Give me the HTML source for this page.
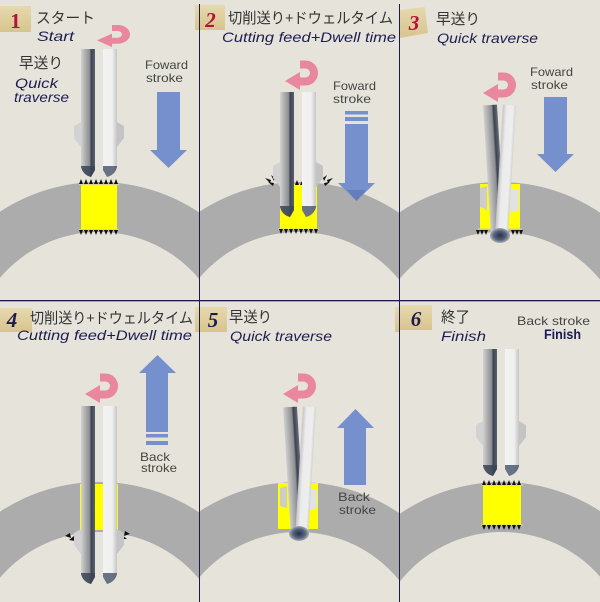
<!DOCTYPE html>
<html><head><meta charset="utf-8"><style>
html,body{margin:0;padding:0;background:#e6e4da;width:600px;height:602px;overflow:hidden;}
svg{display:block;}
.jp{font-family:"Liberation Sans","Noto Sans CJK JP",sans-serif;font-size:15px;fill:#333;}
.en{font-family:"Liberation Sans",sans-serif;font-style:italic;font-size:14px;fill:#1e1d52;}
.hw{font-family:"Liberation Sans",sans-serif;font-size:12px;fill:#444;}
.num{font-family:"Liberation Serif",serif;font-style:italic;font-weight:bold;font-size:21px;}
</style></head><body>
<svg width="600" height="602" viewBox="0 0 600 602" xmlns="http://www.w3.org/2000/svg">
<defs>
  <linearGradient id="gL" gradientUnits="userSpaceOnUse" x1="0" y1="0" x2="14" y2="0">
    <stop offset="0" stop-color="#d2d2d2"/><stop offset="0.35" stop-color="#a9a9aa"/>
    <stop offset="0.62" stop-color="#8b8d92"/><stop offset="0.72" stop-color="#3d4452"/>
    <stop offset="1" stop-color="#5a616d"/>
  </linearGradient>
  <linearGradient id="gR" gradientUnits="userSpaceOnUse" x1="22" y1="0" x2="36" y2="0">
    <stop offset="0" stop-color="#f3f3f3"/><stop offset="0.65" stop-color="#efefef"/>
    <stop offset="0.88" stop-color="#d4d4d4"/><stop offset="1" stop-color="#c4c4c4"/>
  </linearGradient>
  <linearGradient id="gLt" gradientUnits="userSpaceOnUse" x1="-7" y1="0" x2="7" y2="0">
    <stop offset="0" stop-color="#cfcfcf"/><stop offset="0.35" stop-color="#a8a8a9"/>
    <stop offset="0.6" stop-color="#8c8e93"/><stop offset="0.72" stop-color="#3a4150"/>
    <stop offset="1" stop-color="#6a707a"/>
  </linearGradient>
  <linearGradient id="gRt" gradientUnits="userSpaceOnUse" x1="-6.5" y1="0" x2="6.5" y2="0">
    <stop offset="0" stop-color="#c4c4c6"/><stop offset="0.3" stop-color="#ececec"/>
    <stop offset="0.8" stop-color="#eeeeee"/><stop offset="1" stop-color="#d2d2d2"/>
  </linearGradient>
  <radialGradient id="gTip" cx="0.5" cy="0.5" r="0.5">
    <stop offset="0" stop-color="#26304a"/><stop offset="0.6" stop-color="#56627a"/>
    <stop offset="1" stop-color="#a6adb8"/>
  </radialGradient>
  <linearGradient id="gTag" x1="0" y1="0" x2="0" y2="1">
    <stop offset="0" stop-color="#e6d9ae"/><stop offset="1" stop-color="#d8c48e"/>
  </linearGradient>
  <g id="pk">
    <path d="M15,4.5 H20.5 A8.5,8.5 0 0 1 20.5,21.5 H14" fill="none" stroke="#e8879d" stroke-width="8"/>
    <polygon points="0,21 15,12 15,30" fill="#e8879d"/>
  </g>
</defs>

<rect x="0" y="0" width="600" height="602" fill="#e6e4da"/>

<!-- rings -->
<g fill="#acacac">
  <path d="M0,211.67 A180,180 0 0 1 199,212.33 L199,278.93 A130,130 0 0 0 0,277.74 Z"/>
  <path d="M200,211.34 A180,180 0 0 1 399,212.67 L399,279.54 A130,130 0 0 0 200,277.16 Z"/>
  <path d="M400,212.0 A180,180 0 0 1 600,212.67 L600,279.54 A130,130 0 0 0 400,278.34 Z"/>
  <path d="M0,511.67 A180,180 0 0 1 199,512.33 L199,578.93 A130,130 0 0 0 0,577.74 Z"/>
  <path d="M200,511.02 A180,180 0 0 1 399,513.01 L399,580.15 A130,130 0 0 0 200,576.58 Z"/>
  <path d="M400,513.69 A180,180 0 0 1 600,511.02 L600,576.58 A130,130 0 0 0 400,581.40 Z"/>
</g>

<!-- ============ PANEL 1 ============ -->
<g>
  <rect x="81" y="184" width="36" height="46" fill="#ffff00"/>
  <rect x="79" y="184" width="40" height="1.2" fill="#d9d88a"/>
  <rect x="79" y="229" width="40" height="1.2" fill="#d9d88a"/>
  <path fill="#111" d="M79,184L81,179L83,184Z M84,184L86,179L88,184Z M89,184L91,179L93,184Z M94,184L96,179L98,184Z M99,184L101,179L103,184Z M104,184L106,179L108,184Z M109,184L111,179L113,184Z M114,184L116,179L118,184Z
  M79,230L81,235L83,230Z M84,230L86,235L88,230Z M89,230L91,235L93,230Z M94,230L96,235L98,230Z M99,230L101,235L103,230Z M104,230L106,235L108,230Z M109,230L111,235L113,230Z M114,230L116,235L118,230Z"/>
  <g transform="translate(81,122)">
    <path d="M0,-73 H14 V48 L10,55 Q2,53 0,45 V25 L-7,16 V4 L0,0 Z" fill="url(#gL)"/>
    <path d="M0,44 H14 V48 L10,55 Q2,53 0,45 Z" fill="#3a4456" opacity="0.85"/>
    <path d="M22,-73 H36 V0 L43,4 V16 L36,25 V45 Q34,53 26,55 L22,48 Z" fill="url(#gR)"/>
    <path d="M22,44 H36 V45 Q34,53 26,55 L22,48 Z" fill="#46526a" opacity="0.8"/>
  </g>
  <polygon points="157,92 180,92 180,150 187,150 168.5,168 150,150 157,150" fill="#7690cd"/>
  <use href="#pk" transform="translate(97,24.6) scale(1,0.75)"/>
  <rect x="0" y="6" width="31" height="26" fill="url(#gTag)"/>
  <text x="15.5" y="28" class="num" text-anchor="middle" fill="#b2123c" style="font-style:normal">1</text>
  <text x="36" y="23" class="jp" textLength="59" lengthAdjust="spacingAndGlyphs">スタート</text>
  <text x="37" y="41" class="en" textLength="37" lengthAdjust="spacingAndGlyphs">Start</text>
  <text x="19" y="68" class="jp" textLength="44" lengthAdjust="spacingAndGlyphs">早送り</text>
  <text x="15" y="88" class="en" textLength="43" lengthAdjust="spacingAndGlyphs">Quick</text>
  <text x="14" y="102" class="en" textLength="55" lengthAdjust="spacingAndGlyphs">traverse</text>
  <text x="145" y="69" class="hw" textLength="43" lengthAdjust="spacingAndGlyphs">Foward</text>
  <text x="146" y="82" class="hw" textLength="37" lengthAdjust="spacingAndGlyphs">stroke</text>
</g>
<rect x="195" y="5" width="4" height="25" fill="url(#gTag)"/>

<!-- ============ PANEL 2 ============ -->
<g>
  <rect x="280" y="184" width="37" height="45" fill="#ffff00"/>
  <rect x="278" y="228.5" width="41" height="1.2" fill="#d9d88a"/>
  <path fill="#111" d="M279,229L281,234L283,229Z M284,229L286,234L288,229Z M289,229L291,234L293,229Z M294,229L296,234L298,229Z M299,229L301,234L303,229Z M304,229L306,234L308,229Z M309,229L311,234L313,229Z M314,229L316,234L318,229Z
  M295,185L297,180L299,185Z M300,185L302,181L304,185Z
  M271,180L265,178L270,183Z M274,183L268,182L273,186Z M275,178L271,175L274,181Z
  M327,180L333,178L328,183Z M324,183L330,182L325,186Z M323,178L327,175L324,181Z"/>
  <g transform="translate(280,162)">
    <path d="M0,-70 H14 V48 L10,55 Q2,53 0,45 V25 L-7,16 V4 L0,0 Z" fill="url(#gL)"/>
    <path d="M0,44 H14 V48 L10,55 Q2,53 0,45 Z" fill="#3a4456" opacity="0.85"/>
    <path d="M22,-70 H36 V0 L43,4 V16 L36,25 V45 Q34,53 26,55 L22,48 Z" fill="url(#gR)"/>
    <path d="M22,44 H36 V45 Q34,53 26,55 L22,48 Z" fill="#46526a" opacity="0.8"/>
  </g>
  <rect x="345" y="111" width="23" height="3.5" fill="#7690cd"/>
  <rect x="345" y="117" width="23" height="4" fill="#7690cd"/>
  <polygon points="345,124 368,124 368,183 375,183 356.5,201 338,183 345,183" fill="#7690cd"/>
  <polygon points="347,190 366,190 356.5,201" fill="#5a70b2" opacity="0.6"/>
  <use href="#pk" transform="translate(285,60)"/>
  <rect x="200" y="5" width="25" height="25" fill="url(#gTag)"/>
  <text x="210.5" y="27" class="num" text-anchor="middle" fill="#b2123c">2</text>
  <text x="228" y="23" class="jp" textLength="165" lengthAdjust="spacingAndGlyphs">切削送り+ドウェルタイム</text>
  <text x="222" y="42" class="en" textLength="174" lengthAdjust="spacingAndGlyphs">Cutting feed+Dwell time</text>
  <text x="333" y="90" class="hw" textLength="43" lengthAdjust="spacingAndGlyphs">Foward</text>
  <text x="333" y="103" class="hw" textLength="38" lengthAdjust="spacingAndGlyphs">stroke</text>
</g>

<!-- ============ PANEL 3 ============ -->
<g>
  <rect x="480" y="184" width="40" height="45" fill="#ffff00"/>
  <rect x="478" y="228.5" width="44" height="1.2" fill="#d9d88a"/>
  <path fill="#111" d="M476,230L478,235L480,230Z M480,230L482,235L484,230Z M484,230L486,235L488,230Z M511,230L513,235L515,230Z M515,230L517,235L519,230Z M519,230L521,235L523,230Z"/>
  <polygon points="480,188 487,186 487,210 480,207" fill="#cdcdcd"/>
  <polygon points="509,188 519,190 519,210 510,213" fill="#e2e2e2"/>
  <g transform="translate(490,105) rotate(-3.5)">
    <rect x="-7" y="0" width="14" height="128" fill="url(#gLt)"/>
  </g>
  <g transform="translate(509.5,105) rotate(3.5)">
    <rect x="-6.5" y="0" width="13" height="128" fill="url(#gRt)"/>
  </g>
  <ellipse cx="500" cy="235.5" rx="10" ry="7.5" fill="url(#gTip)"/>
  <polygon points="544,97 567,97 567,154 574,154 555.5,172 537,154 544,154" fill="#7690cd"/>
  <use href="#pk" transform="translate(483,72)"/>
  <polygon points="400,10 425,7 428,33 400,38" fill="url(#gTag)"/>
  <text x="414" y="30" class="num" text-anchor="middle" fill="#b2123c">3</text>
  <text x="436" y="24" class="jp" textLength="44" lengthAdjust="spacingAndGlyphs">早送り</text>
  <text x="437" y="43" class="en" textLength="101" lengthAdjust="spacingAndGlyphs">Quick traverse</text>
  <text x="530" y="76" class="hw" textLength="43" lengthAdjust="spacingAndGlyphs">Foward</text>
  <text x="531" y="89" class="hw" textLength="37" lengthAdjust="spacingAndGlyphs">stroke</text>
</g>

<!-- ============ PANEL 4 ============ -->
<g>
  <rect x="80" y="484" width="38" height="46" fill="#ffff00"/>
  <path fill="#111" d="M70,533L65,536L71,538Z M74,536L69,540L75,541Z M125,531L130,534L124,536Z M122,535L127,539L121,539Z"/>
  <g transform="translate(81,529)">
    <path d="M0,-123 H14 V48 L10,55 Q2,53 0,45 V25 L-7,16 V4 L0,0 Z" fill="url(#gL)"/>
    <path d="M0,44 H14 V48 L10,55 Q2,53 0,45 Z" fill="#3a4456" opacity="0.85"/>
    <path d="M22,-123 H36 V0 L43,4 V16 L36,25 V45 Q34,53 26,55 L22,48 Z" fill="url(#gR)"/>
    <path d="M22,44 H36 V45 Q34,53 26,55 L22,48 Z" fill="#46526a" opacity="0.8"/>
  </g>
  <polygon points="157.5,355 176,373 168,373 168,432 146,432 146,373 139,373" fill="#7690cd"/>
  <rect x="146" y="434" width="22" height="3.5" fill="#7690cd"/>
  <rect x="146" y="441" width="22" height="4" fill="#7690cd"/>
  <use href="#pk" transform="translate(85,373)"/>
  <rect x="0" y="308" width="32" height="24" fill="url(#gTag)"/>
  <text x="12" y="327" class="num" text-anchor="middle" fill="#1b1b4f">4</text>
  <text x="30" y="323" class="jp" textLength="163" lengthAdjust="spacingAndGlyphs">切削送り+ドウェルタイム</text>
  <text x="17" y="340" class="en" textLength="175" lengthAdjust="spacingAndGlyphs">Cutting feed+Dwell time</text>
  <text x="140" y="461" class="hw" textLength="30" lengthAdjust="spacingAndGlyphs">Back</text>
  <text x="141" y="472" class="hw" textLength="36" lengthAdjust="spacingAndGlyphs">stroke</text>
</g>
<rect x="195" y="307" width="4" height="25" fill="url(#gTag)"/>

<!-- ============ PANEL 5 ============ -->
<g>
  <rect x="278" y="483" width="40" height="46" fill="#ffff00"/>
  <polygon points="280,488 287,486 287,508 280,506" fill="#cdcdcd"/>
  <polygon points="307,488 317,490 317,508 308,511" fill="#e2e2e2"/>
  <g transform="translate(290,407) rotate(-3.5)">
    <rect x="-7" y="0" width="14" height="124" fill="url(#gLt)"/>
  </g>
  <g transform="translate(309.5,407) rotate(3.5)">
    <rect x="-6.5" y="0" width="13" height="124" fill="url(#gRt)"/>
  </g>
  <ellipse cx="299" cy="533.5" rx="10" ry="7.5" fill="url(#gTip)"/>
  <polygon points="355.5,409 374,428 366,428 366,485 344,485 344,428 337,428" fill="#7690cd"/>
  <use href="#pk" transform="translate(283,373)"/>
  <rect x="200" y="307" width="27" height="25" fill="url(#gTag)"/>
  <text x="213" y="327" class="num" text-anchor="middle" fill="#1b1b4f">5</text>
  <text x="229" y="322" class="jp" textLength="43" lengthAdjust="spacingAndGlyphs">早送り</text>
  <text x="230" y="341" class="en" textLength="102" lengthAdjust="spacingAndGlyphs">Quick traverse</text>
  <text x="338" y="501" class="hw" textLength="32" lengthAdjust="spacingAndGlyphs">Back</text>
  <text x="339" y="514" class="hw" textLength="37" lengthAdjust="spacingAndGlyphs">stroke</text>
</g>
<rect x="395" y="307" width="4" height="25" fill="url(#gTag)"/>

<!-- ============ PANEL 6 ============ -->
<g>
  <rect x="483" y="485" width="38" height="40" fill="#ffff00"/>
  <rect x="481" y="484.5" width="42" height="1.2" fill="#d9d88a"/>
  <rect x="481" y="524.5" width="42" height="1.2" fill="#d9d88a"/>
  <path fill="#111" d="M482,485L484,480L486,485Z M487,485L489,480L491,485Z M492,485L494,480L496,485Z M497,485L499,480L501,485Z M502,485L504,480L506,485Z M507,485L509,480L511,485Z M512,485L514,480L516,485Z M517,485L519,480L521,485Z
  M482,525L484,530L486,525Z M487,525L489,530L491,525Z M492,525L494,530L496,525Z M497,525L499,530L501,525Z M502,525L504,530L506,525Z M507,525L509,530L511,525Z M512,525L514,530L516,525Z M517,525L519,530L521,525Z"/>
  <g transform="translate(483,421)">
    <path d="M0,-72 H14 V48 L10,55 Q2,53 0,45 V25 L-7,16 V4 L0,0 Z" fill="url(#gL)"/>
    <path d="M0,44 H14 V48 L10,55 Q2,53 0,45 Z" fill="#3a4456" opacity="0.85"/>
    <path d="M22,-72 H36 V0 L43,4 V16 L36,25 V45 Q34,53 26,55 L22,48 Z" fill="url(#gR)"/>
    <path d="M22,44 H36 V45 Q34,53 26,55 L22,48 Z" fill="#46526a" opacity="0.8"/>
  </g>
  <rect x="400" y="305" width="32" height="25" fill="url(#gTag)"/>
  <text x="416" y="326" class="num" text-anchor="middle" fill="#1b1b4f">6</text>
  <text x="441" y="322" class="jp" textLength="29" lengthAdjust="spacingAndGlyphs">終了</text>
  <text x="441" y="341" class="en" textLength="45" lengthAdjust="spacingAndGlyphs">Finish</text>
  <text x="517" y="325" class="hw" textLength="73" lengthAdjust="spacingAndGlyphs">Back stroke</text>
  <text x="544" y="339" font-family="Liberation Sans, sans-serif" font-weight="bold" font-size="14" fill="#1a1a50" textLength="37" lengthAdjust="spacingAndGlyphs">Finish</text>
</g>

<!-- grid lines -->
<rect x="0" y="300" width="600" height="1.3" fill="#1a1a44"/>
<rect x="199" y="4" width="1" height="598" fill="#1a1a44"/>
<rect x="399" y="4" width="1" height="598" fill="#1a1a44"/>
</svg>
</body></html>
